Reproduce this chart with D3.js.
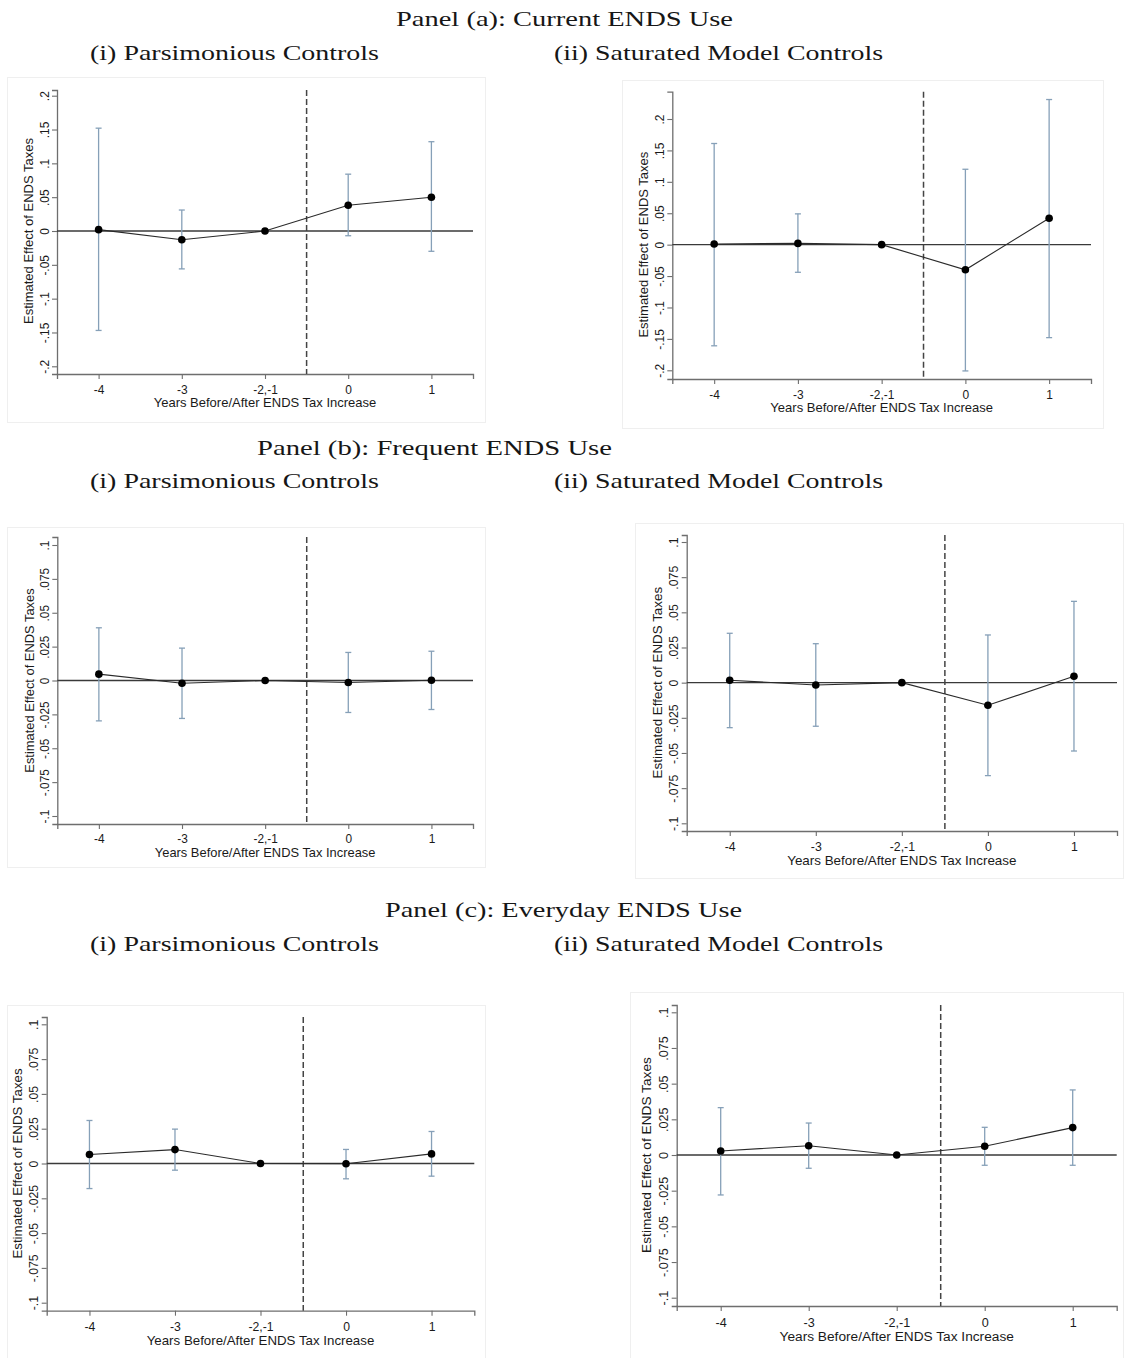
<!DOCTYPE html>
<html>
<head>
<meta charset="utf-8">
<script src="https://cdn.jsdelivr.net/npm/d3@7"></script>
<style>
  body { margin: 0; background: #fff; }
  svg { display: block; }
</style>
</head>
<body>
<div id="chart"></div>
<script>
// ---- data ----
const xLabels = ['-4', '-3', '-2,-1', '0', '1'];

const wideTicks = [-0.2, -0.15, -0.1, -0.05, 0, 0.05, 0.1, 0.15, 0.2];
const wideTickLabels = ['-.2', '-.15', '-.1', '-.05', '0', '.05', '.1', '.15', '.2'];
const narrowTicks = [-0.1, -0.075, -0.05, -0.025, 0, 0.025, 0.05, 0.075, 0.1];
const narrowTickLabels = ['-.1', '-.075', '-.05', '-.025', '0', '.025', '.05', '.075', '.1'];

const panelTitles = ['Panel (a): Current ENDS Use', 'Panel (b): Frequent ENDS Use', 'Panel (c): Everyday ENDS Use'];
const modelTitles = ['(i) Parsimonious Controls', '(ii) Saturated Model Controls'];
const xTitle = 'Years Before/After ENDS Tax Increase';
const yTitle = 'Estimated Effect of ENDS Taxes';

// panel (a) current use
const aParsEst = [0.002, -0.013, 0, 0.038, 0.050];
const aParsLo  = [-0.147, -0.056, null, -0.007, -0.030];
const aParsHi  = [0.152, 0.031, null, 0.084, 0.132];
const aSatEst  = [0.001, 0.002, 0, -0.040, 0.042];
const aSatLo   = [-0.161, -0.044, null, -0.201, -0.148];
const aSatHi   = [0.161, 0.049, null, 0.120, 0.231];

// panel (b) frequent use
const bParsEst = [0.0047, -0.0020, 0, -0.0015, 0.0002];
const bParsLo  = [-0.0298, -0.0280, null, -0.0236, -0.0214];
const bParsHi  = [0.0389, 0.0239, null, 0.0207, 0.0216];
const bSatEst  = [0.0017, -0.0017, 0, -0.0161, 0.0045];
const bSatLo   = [-0.0320, -0.0310, null, -0.0661, -0.0486];
const bSatHi   = [0.0351, 0.0277, null, 0.0339, 0.0578];

// panel (c) everyday use
const cParsEst = [0.0065, 0.0100, 0, -0.0002, 0.0069];
const cParsLo  = [-0.0180, -0.0048, null, -0.0110, -0.0091];
const cParsHi  = [0.0309, 0.0247, null, 0.0101, 0.0230];
const cSatEst  = [0.0028, 0.0065, 0, 0.0061, 0.0192];
const cSatLo   = [-0.0280, -0.0093, null, -0.0072, -0.0072];
const cSatHi   = [0.0332, 0.0224, null, 0.0194, 0.0456];

// ---- layout ----
const W = 1127, H = 1358;
const titleRows = [
  {y: 26,  sy: 60,  cx: 564.5, w: 337},
  {y: 455, sy: 488, cx: 434.5, w: 355},
  {y: 917, sy: 951, cx: 563.5, w: 357}
];
const subPos = [{cx: 234.5, w: 289}, {cx: 718.5, w: 329}];

const panels = [
  {est: aParsEst, lo: aParsLo, hi: aParsHi, ticks: wideTicks, labels: wideTickLabels,
   left: 57, right: 473, top: 90, bottom: 374, hiPx: 95.7, loPx: 366.3, frame: [7, 77, 478, 345], fs: 13},
  {est: aSatEst, lo: aSatLo, hi: aSatHi, ticks: wideTicks, labels: wideTickLabels,
   left: 672.3, right: 1091, top: 91.7, bottom: 379, hiPx: 119, loPx: 370.3, frame: [622, 80, 481, 348], fs: 13},
  {est: bParsEst, lo: bParsLo, hi: bParsHi, ticks: narrowTicks, labels: narrowTickLabels,
   left: 57.3, right: 473, top: 537, bottom: 824, hiPx: 545, loPx: 816, frame: [7, 527, 478, 340], fs: 12.9},
  {est: bSatEst, lo: bSatLo, hi: bSatHi, ticks: narrowTicks, labels: narrowTickLabels,
   left: 686.7, right: 1117, top: 535, bottom: 831, hiPx: 542, loPx: 823.3, frame: [635, 523, 488, 355], fs: 13.4},
  {est: cParsEst, lo: cParsLo, hi: cParsHi, ticks: narrowTicks, labels: narrowTickLabels,
   left: 46.7, right: 474.3, top: 1017, bottom: 1310.7, hiPx: 1024.3, loPx: 1302.7, frame: [7, 1005, 478, 360], fs: 13.3},
  {est: cSatEst, lo: cSatLo, hi: cSatHi, ticks: narrowTicks, labels: narrowTickLabels,
   left: 676.7, right: 1116.7, top: 1005, bottom: 1306, hiPx: 1012.3, loPx: 1297.7, frame: [630, 992, 493, 370], fs: 13.7}
];

const ciColor = '#86a0b8';
const axisColor = '#6e6e6e';
const sansFont = '"Liberation Sans", Arial, sans-serif';
const serifFont = '"Liberation Serif", "DejaVu Serif", serif';

const svg = d3.select('#chart').append('svg')
  .attr('width', W)
  .attr('height', H)
  .attr('viewBox', '0 0 ' + W + ' ' + H);

svg.append('rect').attr('width', W).attr('height', H).attr('fill', '#fff');

// Titles
titleRows.forEach((row, i) => {
  svg.append('text')
    .attr('x', row.cx).attr('y', row.y)
    .attr('text-anchor', 'middle')
    .attr('textLength', row.w)
    .attr('lengthAdjust', 'spacingAndGlyphs')
    .style('font-family', serifFont)
    .style('font-size', '22px')
    .attr('fill', '#161616')
    .text(panelTitles[i]);

  subPos.forEach((s, j) => {
    svg.append('text')
      .attr('x', s.cx).attr('y', row.sy)
      .attr('text-anchor', 'middle')
      .attr('textLength', s.w)
      .attr('lengthAdjust', 'spacingAndGlyphs')
      .style('font-family', serifFont)
      .style('font-size', '22px')
      .attr('fill', '#161616')
      .text(modelTitles[j]);
  });
});

// Panels
panels.forEach(p => {
  const fs = p.fs;
  const tickFs = fs * 0.92;

  // faint frame around each graph
  svg.append('rect')
    .attr('x', p.frame[0] + 0.5).attr('y', p.frame[1] + 0.5)
    .attr('width', p.frame[2]).attr('height', p.frame[3])
    .attr('fill', '#fff')
    .attr('stroke', '#efefef');

  const x = d3.scaleLinear().domain([-0.5, xLabels.length - 0.5]).range([p.left, p.right]);
  const tmax = p.ticks[p.ticks.length - 1];
  const y0 = d3.scaleLinear().domain([-tmax, tmax]).range([p.loPx, p.hiPx]);
  const y = d3.scaleLinear().domain([y0.invert(p.bottom), y0.invert(p.top)]).range([p.bottom, p.top]);

  const g = svg.append('g').attr('class', 'panel');

  // Y axis
  const yAxis = d3.axisLeft(y)
    .tickValues(p.ticks)
    .tickFormat((d, i) => p.labels[i])
    .tickSizeOuter(0)
    .tickSize(5);

  const ya = g.append('g')
    .attr('transform', 'translate(' + p.left + ',0)')
    .call(yAxis);
  ya.select('.domain').attr('stroke', axisColor).attr('stroke-width', 1.3);
  ya.selectAll('.tick line').attr('stroke', axisColor).attr('stroke-width', 1.1);
  ya.selectAll('.tick text')
    .attr('x', null).attr('dy', null)
    .attr('transform', 'translate(' + (-fs * 0.62) + ',0) rotate(-90)')
    .attr('text-anchor', 'middle')
    .attr('fill', '#1a1a1a')
    .style('font-family', sansFont)
    .style('font-size', tickFs + 'px');

  // X axis
  const xAxis = d3.axisBottom(x)
    .tickValues(d3.range(xLabels.length))
    .tickFormat(i => xLabels[i])
    .tickSizeOuter(0)
    .tickSize(5)
    .tickPadding(fs * 1.18 - 5 - tickFs * 0.36);

  const xa = g.append('g')
    .attr('transform', 'translate(0,' + p.bottom + ')')
    .call(xAxis);
  xa.select('.domain').attr('stroke', axisColor).attr('stroke-width', 1.3);
  xa.selectAll('.tick line').attr('stroke', axisColor).attr('stroke-width', 1.1);
  xa.selectAll('.tick text')
    .attr('fill', '#1a1a1a')
    .style('font-family', sansFont)
    .style('font-size', tickFs + 'px');

  // axis titles
  g.append('text')
    .attr('x', (p.left + p.right) / 2)
    .attr('y', p.bottom + fs * 2.2 + fs * 0.36)
    .attr('text-anchor', 'middle')
    .attr('fill', '#1a1a1a')
    .style('font-family', sansFont)
    .style('font-size', fs + 'px')
    .text(xTitle);

  g.append('text')
    .attr('transform', 'translate(' + (p.left - fs * 2.2 + fs * 0.36) + ',' + y(0) + ') rotate(-90)')
    .attr('text-anchor', 'middle')
    .attr('fill', '#1a1a1a')
    .style('font-family', sansFont)
    .style('font-size', fs + 'px')
    .text(yTitle);

  // zero line
  g.append('line')
    .attr('x1', p.left).attr('x2', p.right)
    .attr('y1', y(0)).attr('y2', y(0))
    .attr('stroke', '#3a3a3a')
    .attr('stroke-width', 1.3);

  // dashed line at treatment
  g.append('line')
    .attr('x1', x(2.5)).attr('x2', x(2.5))
    .attr('y1', p.top).attr('y2', p.bottom)
    .attr('stroke', '#444')
    .attr('stroke-width', 1.5)
    .attr('stroke-dasharray', '6,3');

  const rows = p.est.map((e, i) => ({i: i, est: e, lo: p.lo[i], hi: p.hi[i]}));
  const ci = rows.filter(d => d.lo !== null);

  // confidence intervals (capped)
  const caps = g.append('g').attr('class', 'ci')
    .attr('stroke', ciColor).attr('stroke-width', 1.3).attr('fill', 'none');
  caps.selectAll('line.v').data(ci).enter().append('line')
    .attr('class', 'v')
    .attr('x1', d => x(d.i)).attr('x2', d => x(d.i))
    .attr('y1', d => y(d.lo)).attr('y2', d => y(d.hi));
  caps.selectAll('line.t').data(ci).enter().append('line')
    .attr('class', 't')
    .attr('x1', d => x(d.i) - 3).attr('x2', d => x(d.i) + 3)
    .attr('y1', d => y(d.hi)).attr('y2', d => y(d.hi));
  caps.selectAll('line.b').data(ci).enter().append('line')
    .attr('class', 'b')
    .attr('x1', d => x(d.i) - 3).attr('x2', d => x(d.i) + 3)
    .attr('y1', d => y(d.lo)).attr('y2', d => y(d.lo));

  // connecting line
  const line = d3.line().x(d => x(d.i)).y(d => y(d.est));
  g.append('path')
    .attr('d', line(rows))
    .attr('fill', 'none')
    .attr('stroke', '#2a2a2a')
    .attr('stroke-width', 1.1);

  // point estimates
  g.append('g').selectAll('circle').data(rows).enter().append('circle')
    .attr('cx', d => x(d.i))
    .attr('cy', d => y(d.est))
    .attr('r', 3.8)
    .attr('fill', '#000');
});
</script>
</body>
</html>
